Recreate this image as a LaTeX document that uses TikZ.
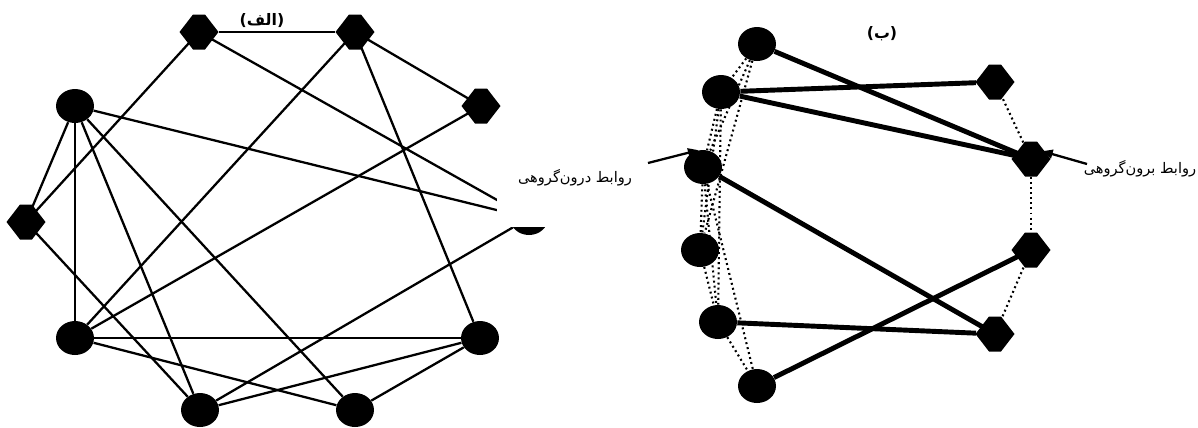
\documentclass[tikz,border=0pt]{standalone}
\usepackage{fontspec}
\newfontfamily\farsi[Script=Arabic]{DejaVu Sans}
\TeXXeTstate=1
\usetikzlibrary{shapes.geometric,arrows.meta}

% flat-topped diamond node
\newcommand\gem[2]{%
  \node[dmd] (#1) at (#2) {};
  \fill[shift={(#2)}] (-19.5,0) -- (-6,-17.5) -- (6,-17.5) -- (19.5,0) -- (6,17.5) -- (-6,17.5) -- cycle;}

\begin{document}
\begin{tikzpicture}[x=0.02cm,y=-0.02cm,
  crc/.style={ellipse,fill=black,minimum width=0.76cm,minimum height=0.68cm,inner sep=0pt},
  dmd/.style={diamond,minimum width=0.78cm,minimum height=0.7cm,inner sep=0pt},
  tie/.style={line width=1.3pt},
  fat/.style={line width=2.8pt},
  dots/.style={line width=1.2pt,dash pattern=on 1.1pt off 1.8pt},
  lbl/.style={font=\farsi\fontsize{8.3}{10}\selectfont},
  ttl/.style={font=\farsi\bfseries\fontsize{9}{11}\selectfont}]
  \useasboundingbox (0,0) rectangle (1198,427);
  % (alef): ten nodes on a ring
  \gem{D1}{199,32}
  \gem{D2}{355,32}
  \gem{D3}{481,106}
  \node[crc] (Cr) at (529,218) {};
  \node[crc] (C5) at (480,338) {};
  \node[crc] (C4) at (355,410) {};
  \node[crc] (C3) at (200,410) {};
  \node[crc] (C2) at (75,338) {};
  \gem{D4}{26,222}
  \node[crc] (C1) at (75,106) {};
  \foreach \a/\b in {D1/D2,D1/D4,D1/Cr,D2/C2,D2/D3,D2/C5,D3/C2,C1/D4,C1/C2,C1/C3,
    C1/C4,C1/Cr,D4/C3,C2/C5,C2/C4,C3/C5,C3/Cr,C4/C5}
    \draw[tie] (\a) -- (\b);
  \node[ttl] (tA) at (262,21) {\beginR(الف)\endR};
  \node[lbl,fill=white,minimum width=3.12cm,minimum height=1.96cm] (inT) at (575,178) {\beginR روابط درون‌گروهی\endR};
  % (be): two groups
  \node[crc] (R1) at (757,44) {};
  \node[crc] (R2) at (721,92) {};
  \node[crc] (R3) at (703,167) {};
  \node[crc] (R4) at (700,250) {};
  \node[crc] (R5) at (718,322) {};
  \node[crc] (R6) at (757,386) {};
  \gem{S1}{995,82}
  \gem{S2}{1031,159}
  \gem{S3}{1031,250}
  \gem{S4}{995,334}
  \foreach \a/\b in {R1/R2,R1/R3,R1/R4,R2/R3,R2/R4,R2/R5,R3/R4,R3/R5,R3/R6,R4/R5,R5/R6,
    S1/S2,S2/S3,S3/S4}
    \draw[dots] (\a) -- (\b);
  \foreach \a/\b in {R1/S2,R2/S1,R2/S2,R3/S4,R5/S4,R6/S3}
    \draw[fat] (\a) -- (\b);
  \node[ttl] (tB) at (882,34) {\beginR(ب)\endR};
  \node[lbl] (outT) at (1140,169) {\beginR روابط برون‌گروهی\endR};
  \coordinate (inA) at (648,163);
  \coordinate (outA) at (1087,164);
  \draw[tie,-{Triangle[length=6pt,width=5pt]}] (inA) -- (R3.105);
  \draw[tie,-{Triangle[length=6pt,width=5pt]}] (outA) -- (S2.35);
\end{tikzpicture}
\end{document}
